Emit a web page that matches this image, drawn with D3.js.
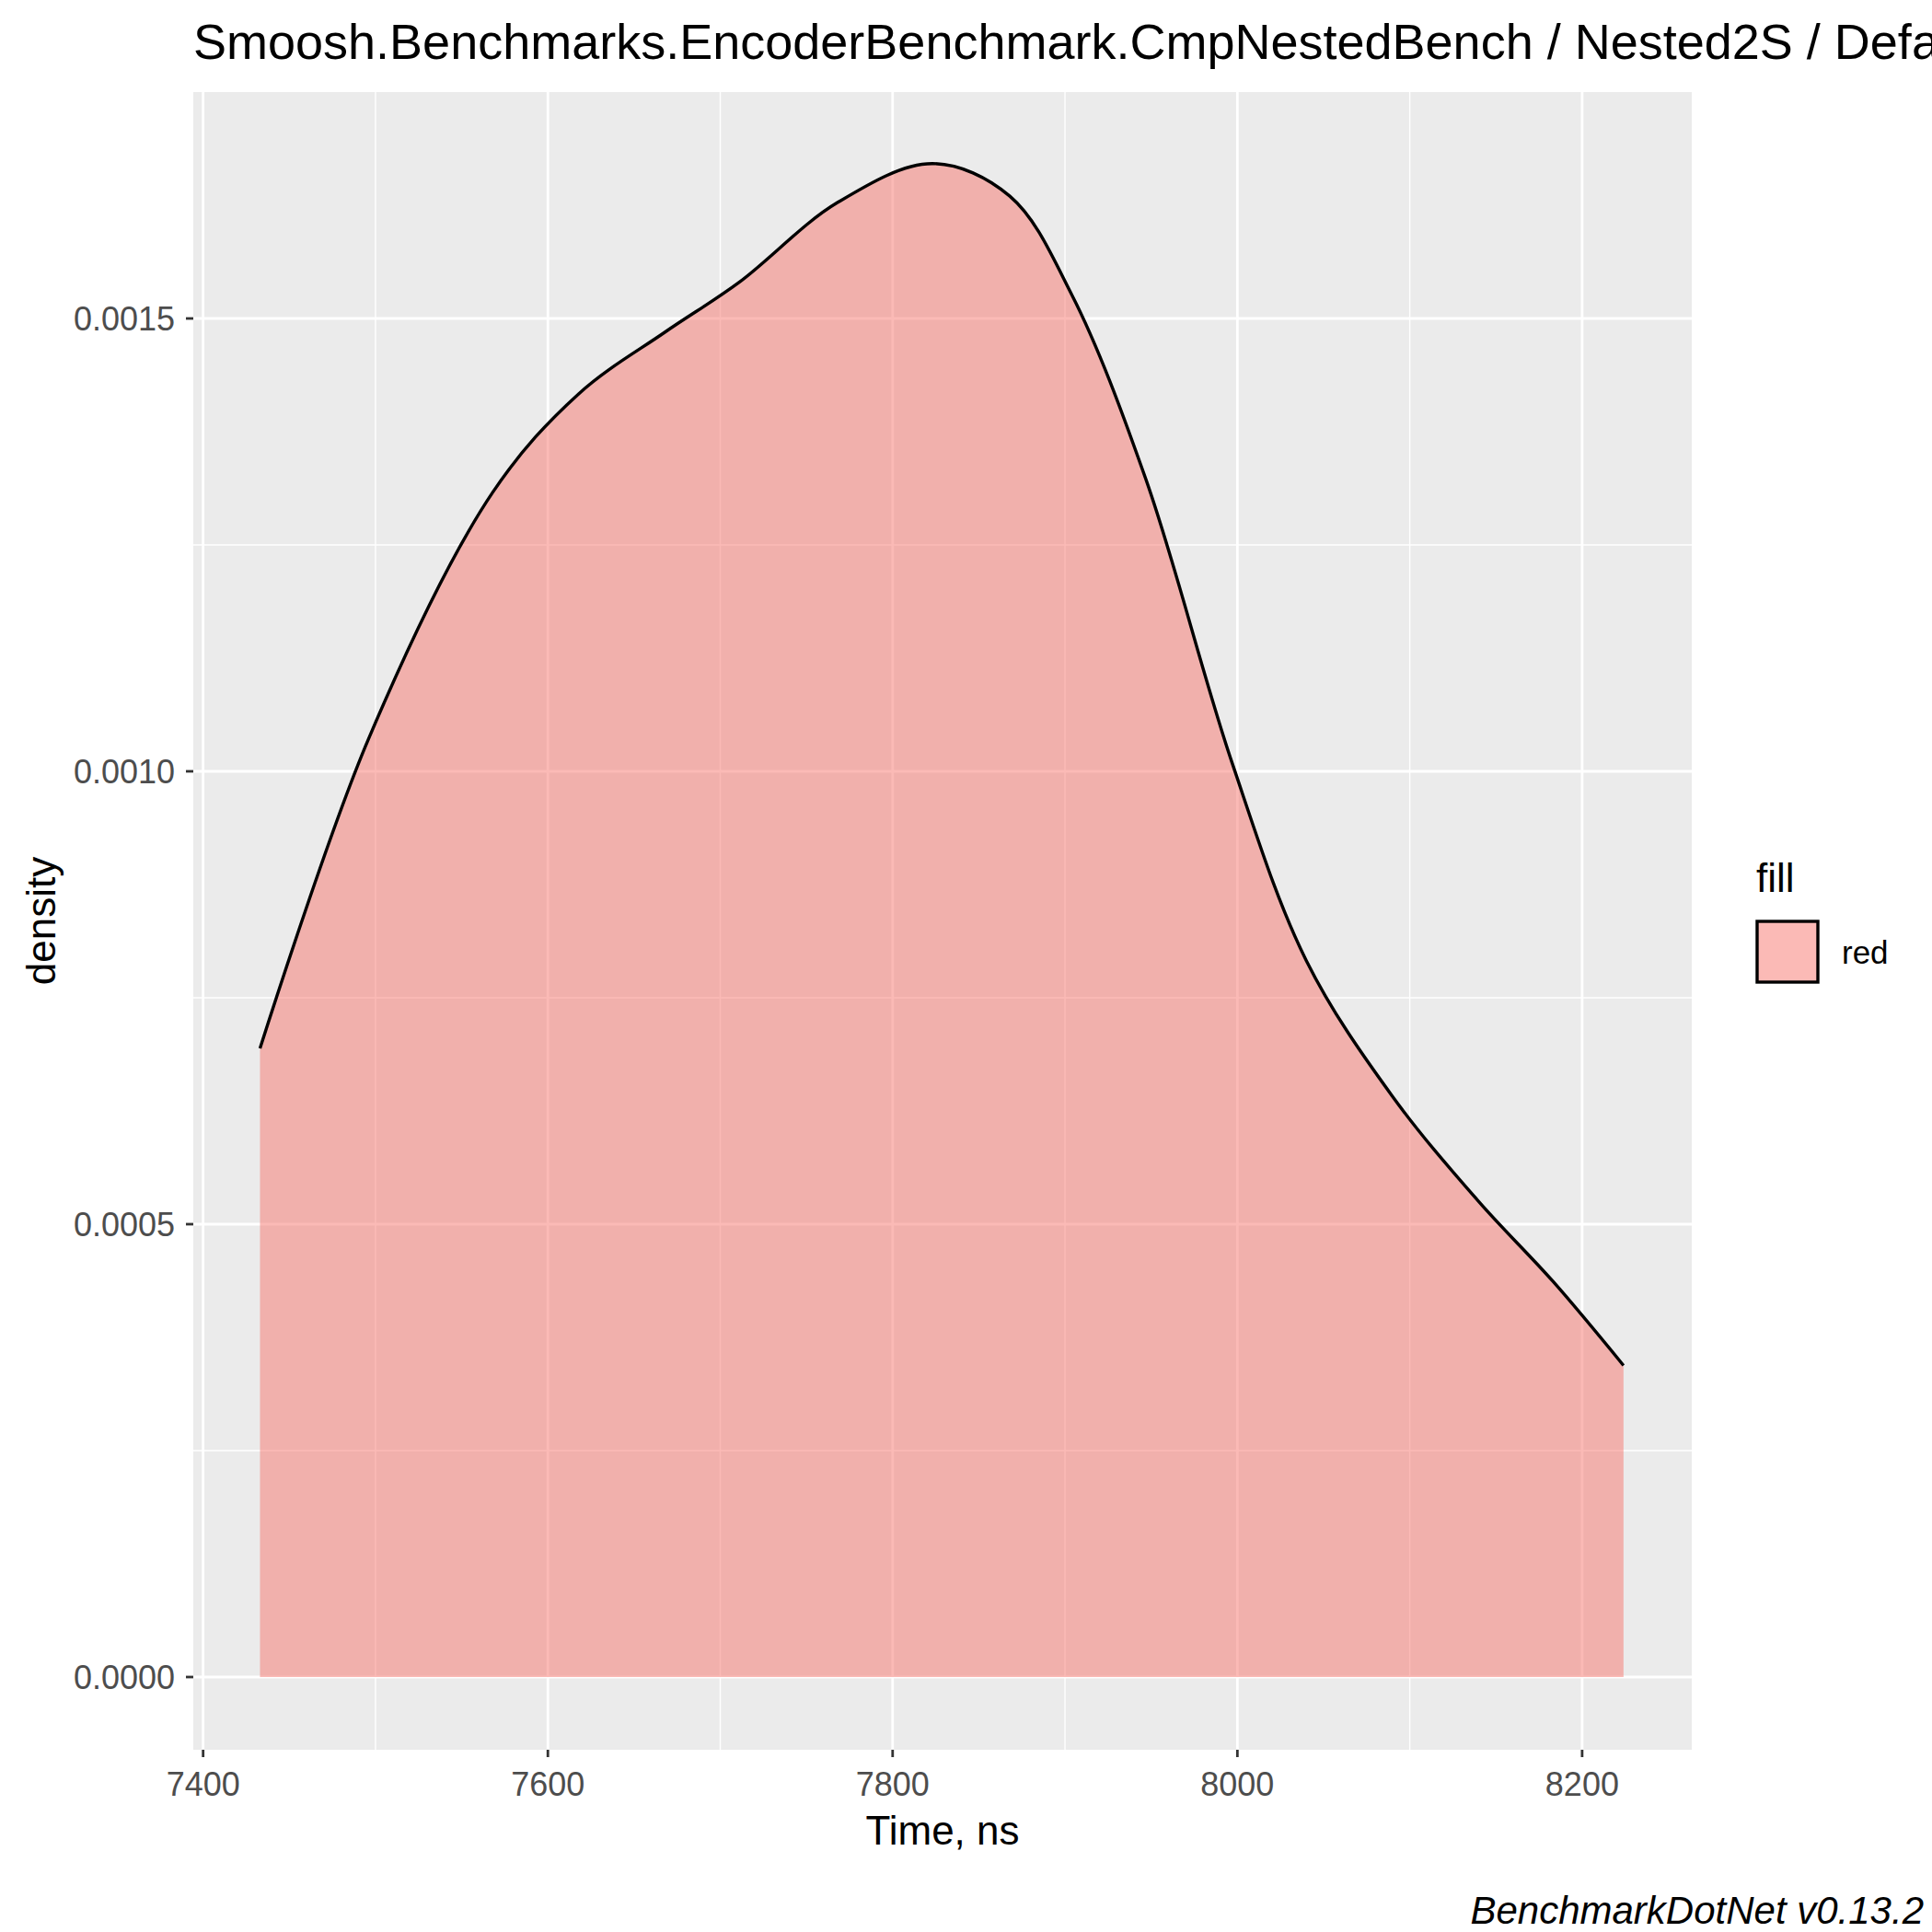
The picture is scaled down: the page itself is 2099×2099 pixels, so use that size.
<!DOCTYPE html>
<html><head><meta charset="utf-8">
<script src="https://cdn.jsdelivr.net/npm/d3@7"></script>
<style>body{margin:0;background:#fff}text{font-family:"Liberation Sans",Arial,sans-serif}</style>
</head><body>
<svg id="c" width="2099" height="2099"></svg>
<script>
var times = [7433, 7496, 7568, 7618, 7668, 7711, 7768, 7823, 7868, 7904, 7947, 7997, 8040, 8090, 8140, 8183, 8224];
var density = [0.000694, 0.001036, 0.001308, 0.001417, 0.001485, 0.001540, 0.001628, 0.001671, 0.001635, 0.001526, 0.001322, 0.001009, 0.000791, 0.000641, 0.000525, 0.000437, 0.000344];
var xTicks = [7400, 7600, 7800, 8000, 8200];
var xMinor = [7500, 7700, 7900, 8100];
var yTicks = [0, 0.0005, 0.0010, 0.0015];
var yMinor = [0.00025, 0.00075, 0.00125];

var svg = d3.select("#c");
var L = 210, R = 1838, T = 100, B = 1901;
var x = d3.scaleLinear().domain([7394.3, 8263.6]).range([L, R]);
var y = d3.scaleLinear().domain([-0.0000803, 0.00175]).range([B, T]);

svg.append("rect").attr("x", L).attr("y", T).attr("width", R - L).attr("height", B - T).attr("fill", "#EBEBEB");

var g = svg.append("g");
yMinor.forEach(function(v) { g.append("line").attr("x1", L).attr("x2", R).attr("y1", y(v)).attr("y2", y(v)).attr("stroke", "#fff").attr("stroke-width", 1.4); });
xMinor.forEach(function(v) { g.append("line").attr("y1", T).attr("y2", B).attr("x1", x(v)).attr("x2", x(v)).attr("stroke", "#fff").attr("stroke-width", 1.4); });
yTicks.forEach(function(v) { g.append("line").attr("x1", L).attr("x2", R).attr("y1", y(v)).attr("y2", y(v)).attr("stroke", "#fff").attr("stroke-width", 2.8); });
xTicks.forEach(function(v) { g.append("line").attr("y1", T).attr("y2", B).attr("x1", x(v)).attr("x2", x(v)).attr("stroke", "#fff").attr("stroke-width", 2.8); });

var pts = times.map(function(t, i) { return [t, density[i]]; });
var area = d3.area().x(function(d) { return x(d[0]); }).y0(y(0)).y1(function(d) { return y(d[1]); }).curve(d3.curveCatmullRom);
var line = d3.line().x(function(d) { return x(d[0]); }).y(function(d) { return y(d[1]); }).curve(d3.curveCatmullRom);
svg.append("path").attr("d", area(pts)).attr("fill", "#F8766D").attr("fill-opacity", 0.5);
svg.append("path").attr("d", line(pts)).attr("fill", "none").attr("stroke", "#000").attr("stroke-width", 3.4);

// axes
xTicks.forEach(function(v) {
  svg.append("line").attr("x1", x(v)).attr("x2", x(v)).attr("y1", B).attr("y2", B + 8).attr("stroke", "#333").attr("stroke-width", 2.8);
  svg.append("text").attr("x", x(v)).attr("y", B + 50).attr("text-anchor", "middle").attr("font-size", 36).attr("fill", "#4D4D4D").text(v);
});
yTicks.forEach(function(v) {
  svg.append("line").attr("x1", L - 8).attr("x2", L).attr("y1", y(v)).attr("y2", y(v)).attr("stroke", "#333").attr("stroke-width", 2.8);
  svg.append("text").attr("x", L - 20).attr("y", y(v) + 13).attr("text-anchor", "end").attr("font-size", 36).attr("fill", "#4D4D4D").text(d3.format(".4f")(v));
});

svg.append("text").attr("x", (L + R) / 2).attr("y", 2004).attr("text-anchor", "middle").attr("font-size", 44).text("Time, ns");
svg.append("text").attr("transform", "translate(60," + ((T + B) / 2) + ") rotate(-90)").attr("text-anchor", "middle").attr("font-size", 44).text("density");
svg.append("text").attr("x", L).attr("y", 64).attr("font-size", 54).text("Smoosh.Benchmarks.EncoderBenchmark.CmpNestedBench / Nested2S / Default");
svg.append("text").attr("x", 2090).attr("y", 2090).attr("text-anchor", "end").attr("font-size", 42).attr("font-style", "italic").text("BenchmarkDotNet v0.13.2");

// legend
svg.append("text").attr("x", 1908).attr("y", 969).attr("font-size", 44).text("fill");
svg.append("rect").attr("x", 1909).attr("y", 1001).attr("width", 66).attr("height", 66).attr("fill", "#F8766D").attr("fill-opacity", 0.5).attr("stroke", "#000").attr("stroke-width", 3.4);
svg.append("text").attr("x", 2001).attr("y", 1047).attr("font-size", 35).text("red");
</script>
</body></html>
